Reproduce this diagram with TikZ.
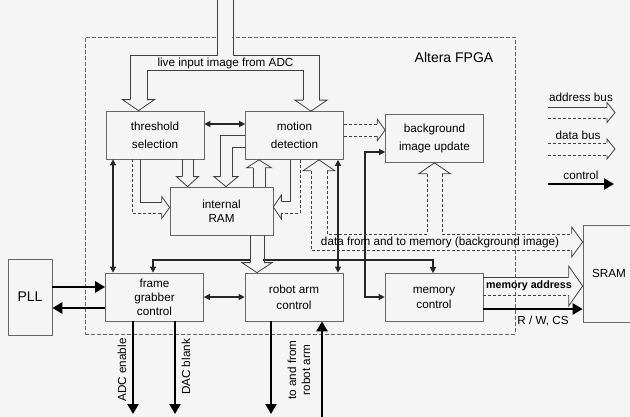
\documentclass[tikz,border=0pt]{standalone}
\usepackage{fontspec}
\setmainfont{Liberation Sans}
\usetikzlibrary{arrows.meta}
\colorlet{bg}{black!4}
\tikzset{
  blk/.style={draw=black!60,line width=0.7pt,minimum width=98pt,minimum height=48pt,align=center,inner sep=0pt},
  busline/.style={draw=black!75,line width=0.8pt},
  busdash/.style={busline,dash pattern=on 3pt off 2pt},
  sig/.style={line width=1.3pt,draw=black!85,>={Triangle[length=6pt,width=6pt]}},
  ctrl/.style={line width=2.4pt,draw=black,-{Triangle[length=10pt,width=11pt]}},
  pics/bushead/.style n args={3}{code={%
    \filldraw[busline,fill=bg] (-#3,#1) -- (-#3,#2) -- (0,0) -- (-#3,-#2) -- (-#3,-#1);}},
}
\begin{document}
\begin{tikzpicture}[x=1pt,y=-1pt,font=\fontsize{11.7}{14}\selectfont]
\useasboundingbox (0,0) rectangle (630,417);
\fill[bg] (0,0) rectangle (630,417);
% FPGA frame
\node[draw=black!60,dash pattern=on 4pt off 2pt,line width=0.7pt,minimum width=430pt,minimum height=297pt,inner sep=0pt] (fpga) at (300,185.5) {};
\node[font=\fontsize{14}{16}\selectfont] (altera) at (454,57) {Altera FPGA};
\fill[bg] (218,30) rectangle (232,45);
% blocks
\node[blk] (thr) at (155,135) {threshold\\[4pt]selection};
\node[blk] (mot) at (294.5,135.5) {motion\\[4pt]detection};
\node[blk] (bgu) at (434.5,138.5) {background\\[4pt]image update};
\node[blk,minimum width=103pt] (ram) at (221.5,211) {internal\\RAM};
\node[blk] (fgc) at (154.5,297) {frame\\grabber\\control};
\node[blk] (rac) at (294,297) {robot arm\\[2pt]control};
\node[blk] (mem) at (434,297.5) {memory\\[1pt]control};
\node[blk,minimum width=44pt,minimum height=76pt,font=\fontsize{14}{16}\selectfont] (pll) at (30,297) {PLL};
\node[blk,minimum width=52pt,minimum height=97pt] (sram) at (609,273.5) {SRAM};
% free ends
\coordinate (adcout) at (133,414);
\coordinate (dacout) at (175,414);
\coordinate (armout) at (271,414);
\coordinate (armin) at (322,417);
% control lines
\draw[sig,<->] (thr.east |- 0,124) -- (mot.west |- 0,124);
\draw[sig,<->] (fgc) -- (rac);
\draw[sig,<->] (113,0 |- thr.south) -- (113,0 |- fgc.north);
\draw[sig,<->] (338,0 |- mot.south) -- (338,0 |- rac.north);
\draw[sig,<->] (153,0 |- fgc.north) -- (153,260) -- (433,260) -- (433,0 |- mem.north);
\draw[sig,<->] (bgu.west |- 0,152) -- (365,152) -- (365,297) -- (mem.west |- 0,297);
\draw[ctrl] (pll.east |- 0,287) -- (fgc.west |- 0,287);
\draw[ctrl] (fgc.west |- 0,308) -- (pll.east |- 0,308);
\draw[ctrl] (adcout |- fgc.south) -- (adcout);
\draw[ctrl] (dacout |- fgc.south) -- (dacout);
\draw[ctrl] (armout |- rac.south) -- (armout);
\draw[ctrl] (armin) -- (armin |- rac.south);
\draw[ctrl] (mem.east |- 0,309) -- (sram.west |- 0,309);
% live input image bus
\draw[busline] (217,0) -- (217,55) -- (130,55) -- (130,100);
\draw[busline] (233,0) -- (233,55) -- (319,55) -- (319,100);
\draw[busline] (147,100) -- (147,70) -- (303,70) -- (303,100);
\pic[rotate=-90] at (138.5,0 |- thr.north) {bushead={8.5}{16}{11}};
\pic[rotate=-90] at (311,0 |- mot.north) {bushead={8}{16}{11}};
% buses round the internal RAM
\draw[busline] (182,0 |- thr.south) -- (182,177) (193,0 |- thr.south) -- (193,177);
\pic[rotate=-90] at (187.5,0 |- ram.north) {bushead={5.5}{11}{10}};
\draw[busline] (mot.west |- 0,135) -- (220,135) -- (220,177);
\draw[busline] (mot.west |- 0,147) -- (232,147) -- (232,177);
\pic[rotate=-90] at (226,0 |- ram.north) {bushead={6}{12}{10}};
\draw[busline] (253,0 |- ram.north) -- (253,168) (265,0 |- ram.north) -- (265,168);
\pic[rotate=90] at (259,0 |- mot.south) {bushead={6}{12.5}{8}};
\draw[busline] (290,0 |- mot.south) -- (290,201) -- (281,201);
\draw[busdash] (300,0 |- mot.south) -- (300,213) -- (281,213);
\pic[rotate=180] at (ram.east |- 0,207) {bushead={6}{12}{8}};
\draw[busdash] (132,0 |- thr.south) -- (132,213) -- (162,213);
\draw[busline] (140,0 |- thr.south) -- (140,202) -- (162,202);
\pic at (ram.west |- 0,207.5) {bushead={5.5}{11}{8}};
\fill[bg] (251,236) rectangle (263,263);
\draw[busline] (250,0 |- ram.south) -- (250,263) (264,0 |- ram.south) -- (264,263);
\pic[rotate=-90] at (257,0 |- rac.north) {bushead={7}{15}{10}};
% data buses
\draw[busdash] (mot.east |- 0,124) -- (377,124) (mot.east |- 0,136) -- (377,136);
\pic at (bgu.west |- 0,130) {bushead={6}{11}{8}};
\draw[busdash] (311,171) -- (311,250) -- (573,250);
\draw[busdash] (327,171) -- (327,234) -- (427,234) -- (427,174);
\draw[busdash] (442,174) -- (442,234) -- (573,234);
\pic[rotate=90] at (319,0 |- mot.south) {bushead={8}{16}{11}};
\pic[rotate=90] at (434.5,0 |- bgu.south) {bushead={7.5}{16}{11}};
\pic at (sram.west |- 0,242) {bushead={8}{15}{11}};
\draw[busline] (mem.east |- 0,277) -- (570,277);
\draw[busdash] (mem.east |- 0,295) -- (570,295);
\pic at (sram.west |- 0,286) {bushead={9}{20}{14}};
% labels
\node (live) at (225.5,63) {live input image from ADC};
\node (dmem) at (440,242) {data from and to memory (background image)};
\node[font=\bfseries\fontsize{10.7}{13}\selectfont] (madr) at (529,286) {memory address};
\node (rwcs) at (543,321) {R / W, CS};
\node[rotate=90] (adclbl) at (122,370) {ADC enable};
\node[rotate=90] (daclbl) at (186,367) {DAC blank};
\node[rotate=90,align=center] (armlbl) at (299,370) {to and from\\robot arm};
% legend
\node (laddr) at (581,97) {address bus};
\draw[busline] (548,107) -- (607,107);
\draw[busdash] (548,118) -- (607,118);
\pic at (615,112.5) {bushead={5.5}{10}{8}};
\node (ldata) at (578,135) {data bus};
\draw[busdash] (548,143) -- (607,143) (548,155) -- (607,155);
\pic at (615,149) {bushead={6}{10}{8}};
\node (lctrl) at (581,175) {control};
\coordinate (lc1) at (548,184);
\coordinate (lc2) at (614,184);
\draw[ctrl] (lc1) -- (lc2);
\end{tikzpicture}
\end{document}
